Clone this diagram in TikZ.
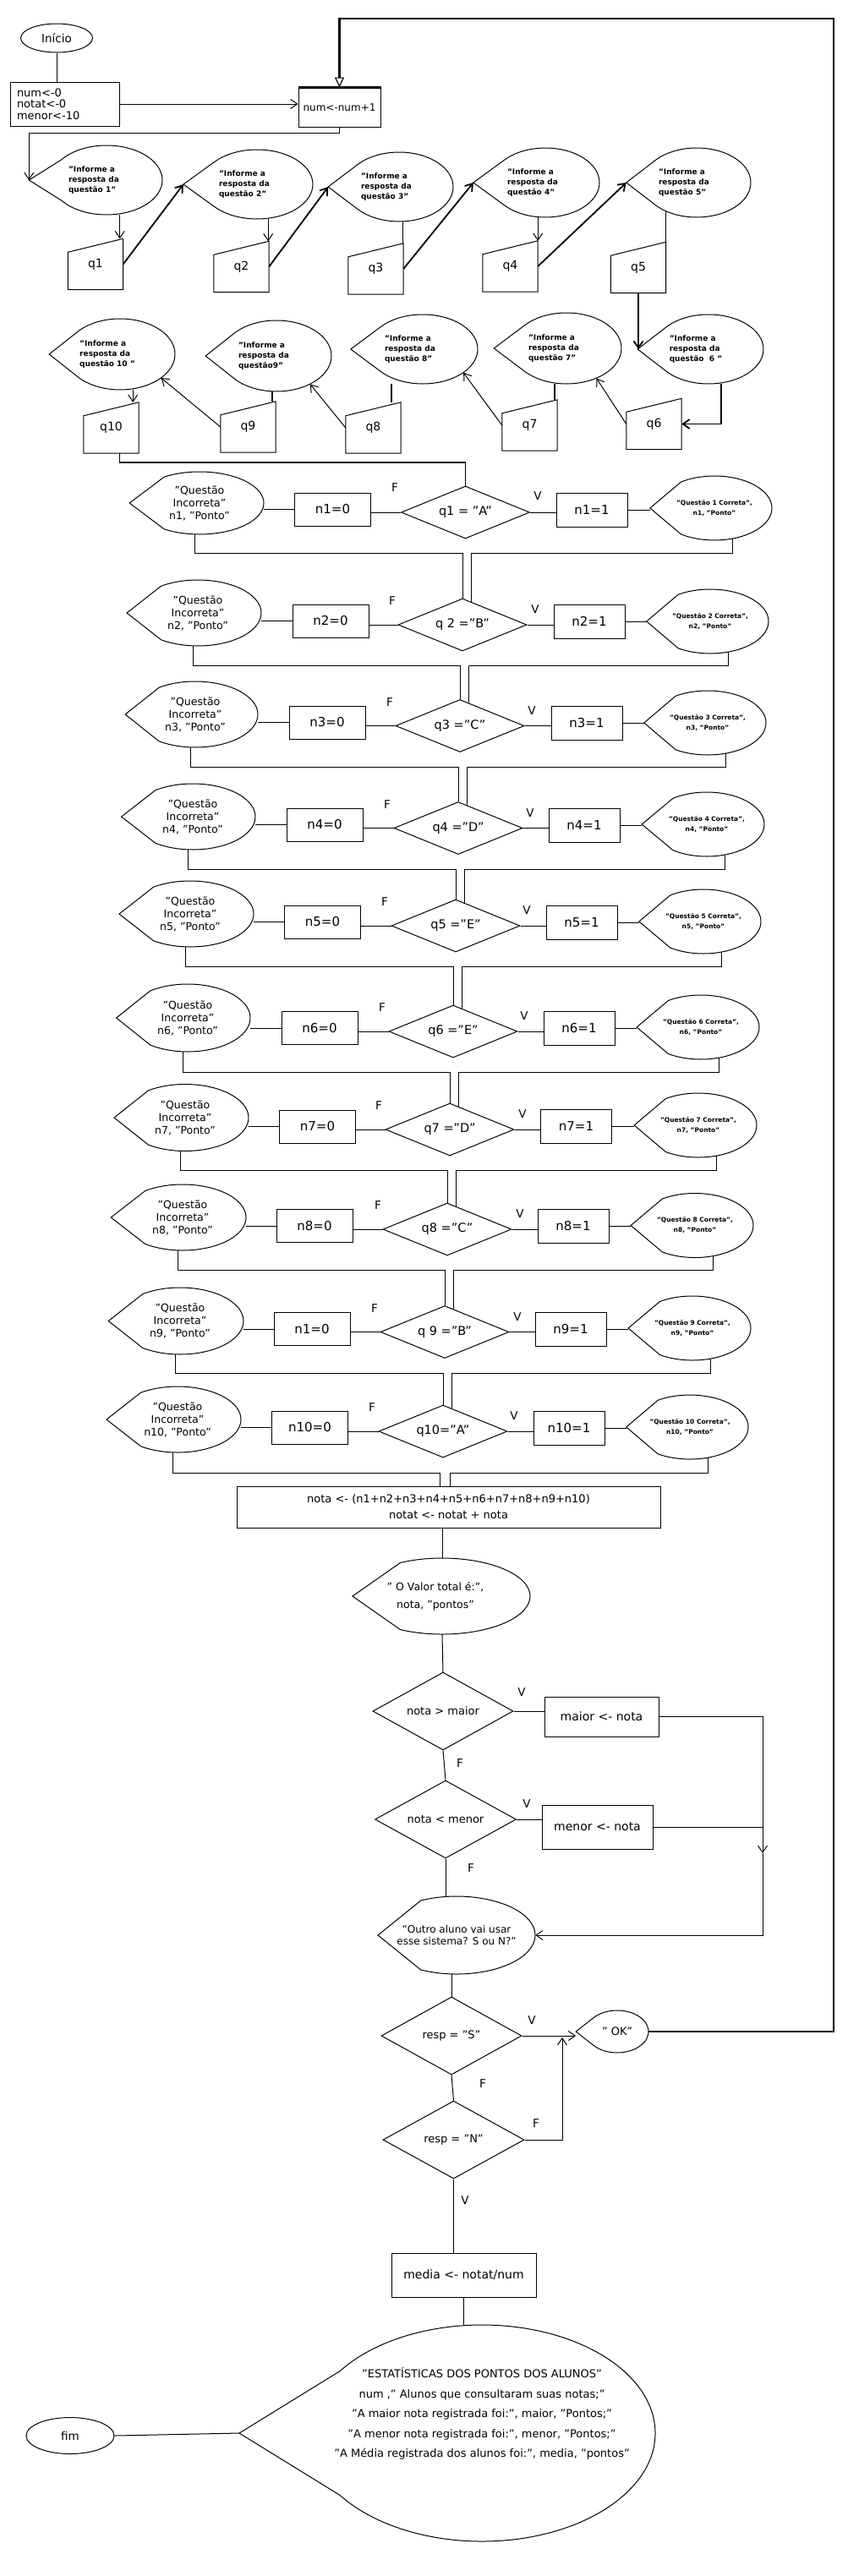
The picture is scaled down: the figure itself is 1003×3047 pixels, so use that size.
\documentclass[tikz,border=0pt]{standalone}
\usepackage{fontspec}
\setmainfont{DejaVu Sans}
\usetikzlibrary{shapes.geometric, arrows.meta, calc}

% tela de saida: ponta a esquerda, arco a direita
% [opcoes do texto]{nome}{cx}{cy}{raio x}{raio y}{ponta}{texto}
\newcommand{\tela}[8][]{%
  \node[telaforma, minimum width=2*#5, minimum height=2*#6] (#2) at (#3,#4) {};
  \node[texto, #1] (#2-t) at (#3,#4) {#8};
  \coordinate (#2-p) at ({#3-#7*#5},#4);
  \pgfmathsetmacro{\angulo}{117+70*(#7-1)}%
  \draw[linha] (#2-p) -- ($(#2.center)+(\angulo:#5pt and #6pt)$)
    arc[start angle=\angulo, end angle=-\angulo, x radius=#5pt, y radius=#6pt] -- cycle;
}
% entrada manual: topo inclinado
\newcommand{\entrada}[4]{%
  \node[entrada] (#1) at (#2,#3) {#4};
  \draw[linha] (#1.south west) -- (#1.south east) -- (#1.north east) -- ([yshift=-16pt]#1.north west) -- cycle;
}

\begin{document}
\begin{tikzpicture}[x=1pt, y=-1pt,
    linha/.style={draw=black, line width=1pt},
    linhamedia/.style={draw=black, line width=1.8pt},
    grossa/.style={draw=black, line width=2.6pt},
    seta/.style={linha, -{Straight Barb[length=8pt, width=11pt]}},
    setamedia/.style={linhamedia, -{Straight Barb[length=8pt, width=11pt]}},
    caixa/.style={rectangle, draw, line width=1pt, inner sep=2pt, align=center, font=\fontsize{15}{18}\selectfont},
    zero/.style={caixa, minimum width=90, minimum height=39},
    um/.style={caixa, minimum width=84, minimum height=40},
    losango/.style={diamond, draw, line width=1pt, inner sep=0pt, aspect=2.45, minimum width=152, minimum height=62, font=\fontsize{14.5}{17}\selectfont},
    extremo/.style={ellipse, draw, line width=1pt, inner sep=0pt, font=\fontsize{13.5}{16}\selectfont},
    telaforma/.style={ellipse, inner sep=0pt},
    texto/.style={inner sep=0pt, align=center, font=\fontsize{13}{15}\selectfont},
    informe/.style={xshift=-15, align=left, font=\bfseries\fontsize{9}{12}\selectfont},
    errada/.style={font=\fontsize{12.5}{15}\selectfont},
    certa/.style={font=\bfseries\fontsize{7.5}{12}\selectfont},
    entrada/.style={rectangle, minimum width=65, minimum height=60, inner sep=0pt, font=\fontsize{14}{16}\selectfont},
    rotulo/.style={inner sep=0pt, font=\fontsize{13.5}{16}\selectfont}
  ]
  \fill[white] (0,0) rectangle (1003,3047);
  \useasboundingbox (0,0) rectangle (1003,3047);

  % Inicio
  \node[extremo, minimum width=85, minimum height=34] (inicio) at (67,45) {Início};
  \node[caixa, text width=113pt, align=left, inner xsep=8pt, minimum height=52, font=\fontsize{13}{13.5}\selectfont] (ini) at (76.5,123) {num<-0\\notat<-0\\menor<-10};
  \node[caixa, minimum width=97, minimum height=46, font=\fontsize{12}{14}\selectfont] (num) at (401.5,127) {num<-num+1};

  % Leitura das respostas
  \tela[informe]{i1}{126}{213}{66}{41}{1.39}{"Informe a\\resposta da\\questão 1"}
  \tela[informe]{i2}{304}{218}{66}{41}{1.32}{"Informe a\\resposta da\\questão 2"}
  \tela[informe]{i3}{472}{221}{64}{41}{1.31}{"Informe a\\resposta da\\questão 3"}
  \tela[informe]{i4}{645}{216}{64}{41}{1.33}{"Informe a\\resposta da\\questão 4"}
  \tela[informe]{i5}{824}{216}{64}{41}{1.30}{"Informe a\\resposta da\\questão 5"}
  \tela[informe]{i6}{838}{413}{65}{41}{1.29}{"Informe a\\resposta da\\questão\ \ 6 "}
  \tela[informe]{i7}{670}{412}{65}{42}{1.32}{"Informe a\\resposta da\\questão 7"}
  \tela[informe]{i8}{500}{413}{65}{41}{1.31}{"Informe a\\resposta da\\questão 8"}
  \tela[informe]{i9}{327}{421}{65}{42}{1.29}{"Informe a\\resposta da\\questão9"}
  \tela[informe]{i10}{142}{419}{65}{42}{1.29}{"Informe a\\resposta da\\questão 10 "}

  \entrada{q1}{113}{312.5}{q1}
  \entrada{q2}{285.5}{315.5}{q2}
  \entrada{q3}{444.5}{318}{q3}
  \entrada{q4}{603.5}{315}{q4}
  \entrada{q5}{755}{316.5}{q5}
  \entrada{q6}{773.5}{501.5}{q6}
  \entrada{q7}{626.5}{503}{q7}
  \entrada{q8}{441.5}{506}{q8}
  \entrada{q9}{293.5}{505}{q9}
  \entrada{q10}{131.5}{506}{q10}

  % Questao 1
  \node[losango] (d1) at (550.5,606) {q1 = "A"};
  \node[zero] (z1) at (393.5,602.5) {n1=0};
  \node[um] (u1) at (700,603) {n1=1};
  \tela[errada]{e1}{236}{595}{76}{37}{1.09}{"Questão\\Incorreta"\\n1, "Ponto"}
  \tela[certa]{c1}{845}{601}{68}{38}{1.12}{"Questão 1 Correta",\\n1, "Ponto"}
  \node[rotulo] (f1) at (467,577) {F};
  \node[rotulo] (v1) at (636,587) {V};

  % Questao 2
  \node[losango] (d2) at (547,739) {q 2 ="B"};
  \node[zero] (z2) at (391,734.5) {n2=0};
  \node[um] (u2) at (697,735) {n2=1};
  \tela[errada]{e2}{234}{725}{75}{39}{1.12}{"Questão\\Incorreta"\\n2, "Ponto"}
  \tela[certa]{c2}{840}{735}{69}{38}{1.09}{"Questão 2 Correta",\\n2, "Ponto"}
  \node[rotulo] (f2) at (464,711) {F};
  \node[rotulo] (v2) at (633,721) {V};

  % Questao 3
  \node[losango] (d3) at (544,858.5) {q3 ="C"};
  \node[zero] (z3) at (387,854.5) {n3=0};
  \node[um] (u3) at (694,855) {n3=1};
  \tela[errada]{e3}{231}{845}{74}{39}{1.12}{"Questão\\Incorreta"\\n3, "Ponto"}
  \tela[certa]{c3}{837}{855}{69}{38}{1.09}{"Questão 3 Correta",\\n3, "Ponto"}
  \node[rotulo] (f3) at (461,831) {F};
  \node[rotulo] (v3) at (629,841) {V};

  % Questao 4
  \node[losango] (d4) at (542,979.5) {q4 ="D"};
  \node[zero] (z4) at (384,975.5) {n4=0};
  \node[um] (u4) at (691,976.5) {n4=1};
  \tela[errada]{e4}{228}{966}{74}{39}{1.14}{"Questão\\Incorreta"\\n4, "Ponto"}
  \tela[certa]{c4}{836}{975}{68}{38}{1.13}{"Questão 4 Correta",\\n4, "Ponto"}
  \node[rotulo] (f4) at (458,952) {F};
  \node[rotulo] (v4) at (627,962) {V};

  % Questao 5
  \node[losango] (d5) at (539,1095) {q5 ="E"};
  \node[zero] (z5) at (381.5,1090.5) {n5=0};
  \node[um] (u5) at (688,1091) {n5=1};
  \tela[errada]{e5}{225}{1081}{75}{39}{1.12}{"Questão\\Incorreta"\\n5, "Ponto"}
  \tela[certa]{c5}{832}{1090}{68}{38}{1.12}{"Questão 5 Correta",\\n5, "Ponto"}
  \node[rotulo] (f5) at (455,1067) {F};
  \node[rotulo] (v5) at (623,1077) {V};

  % Questao 6
  \node[losango] (d6) at (536,1220) {q6 ="E"};
  \node[zero] (z6) at (378,1216) {n6=0};
  \node[um] (u6) at (685,1216.5) {n6=1};
  \tela[errada]{e6}{222}{1204}{74}{40}{1.14}{"Questão\\Incorreta"\\n6, "Ponto"}
  \tela[certa]{c6}{829}{1215}{69}{38}{1.1}{"Questão 6 Correta",\\n6, "Ponto"}
  \node[rotulo] (f6) at (452,1192) {F};
  \node[rotulo] (v6) at (620,1202) {V};

  % Questao 7
  \node[losango] (d7) at (532,1336) {q7 ="D"};
  \node[zero] (z7) at (375.5,1332.5) {n7=0};
  \node[um] (u7) at (681.5,1332.5) {n7=1};
  \tela[errada]{e7}{219}{1322}{75}{39.5}{1.12}{"Questão\\Incorreta"\\n7, "Ponto"}
  \tela[certa]{c7}{826}{1331}{69}{38}{1.1}{"Questão 7 Correta",\\n7, "Ponto"}
  \node[rotulo] (f7) at (448,1308) {F};
  \node[rotulo] (v7) at (618,1318) {V};

  % Questao 8
  \node[losango] (d8) at (529,1454) {q8 ="C"};
  \node[zero] (z8) at (372,1450) {n8=0};
  \node[um] (u8) at (678,1450.5) {n8=1};
  \tela[errada]{e8}{216}{1440}{75}{39}{1.13}{"Questão\\Incorreta"\\n8, "Ponto"}
  \tela[certa]{c8}{822}{1449.5}{69}{38}{1.1}{"Questão 8 Correta",\\n8, "Ponto"}
  \node[rotulo] (f8) at (447,1426) {F};
  \node[rotulo] (v8) at (615,1436) {V};

  % Questao 9
  \node[losango] (d9) at (526,1575.5) {q 9 ="B"};
  \node[zero] (z9) at (369,1572) {n1=0};
  \node[um] (u9) at (675,1572.5) {n9=1};
  \tela[errada]{e9}{213}{1562.5}{75}{39.5}{1.13}{"Questão\\Incorreta"\\n9, "Ponto"}
  \tela[certa]{c9}{819}{1571}{69}{38}{1.1}{"Questão 9 Correta",\\n9, "Ponto"}
  \node[rotulo] (f9) at (443,1548) {F};
  \node[rotulo] (v9) at (612,1558) {V};

  % Questao 10
  \node[losango] (d10) at (524,1693) {q10="A"};
  \node[zero] (z10) at (366.5,1688.5) {n10=0};
  \node[um] (u10) at (673,1689) {n10=1};
  \tela[errada]{e10}{210}{1679}{75}{39}{1.12}{"Questão\\Incorreta"\\n10, "Ponto"}
  \tela[certa]{c10}{816}{1688}{69}{38}{1.09}{"Questão 10 Correta",\\n10, "Ponto"}
  \node[rotulo] (f10) at (440,1665) {F};
  \node[rotulo] (v10) at (608,1675) {V};

  % Resultado
  \node[caixa, minimum width=501, minimum height=49, font=\fontsize{13}{19}\selectfont] (soma) at (530.5,1782.5) {nota <- (n1+n2+n3+n4+n5+n6+n7+n8+n9+n10)\\notat <- notat + nota};
  \tela[xshift=-8, font=\fontsize{12.5}{21}\selectfont]{valor}{523}{1888}{104}{45}{1.02}{" O Valor total é:",\\nota, "pontos"}
  \node[losango, aspect=1.8, minimum width=166, minimum height=92, font=\fontsize{13}{15}\selectfont] (maior) at (524,2024) {nota > maior};
  \node[caixa, minimum width=135, minimum height=47, font=\fontsize{14}{16}\selectfont] (maiorx) at (711.5,2030.5) {maior <- nota};
  \node[losango, aspect=1.8, minimum width=167, minimum height=92, font=\fontsize{13}{15}\selectfont] (menor) at (527,2152) {nota < menor};
  \node[caixa, minimum width=131, minimum height=52, font=\fontsize{14}{16}\selectfont] (menorx) at (706.5,2161) {menor <- nota};
  \node[rotulo] (vmaior) at (617,2002) {V};
  \node[rotulo] (fmaior) at (544,2086) {F};
  \node[rotulo] (vmenor) at (623,2134) {V};
  \node[rotulo] (fmenor) at (557,2210) {F};

  % Outro aluno
  \tela[font=\fontsize{12}{14}\selectfont]{outro}{540}{2289}{93}{46}{1.0}{"Outro aluno vai usar\\esse sistema? S ou N?"}
  \node[losango, aspect=1.8, minimum width=166, minimum height=92, font=\fontsize{13}{15}\selectfont] (rs) at (534,2408) {resp = "S"};
  \tela[font=\fontsize{13}{15}\selectfont]{ok}{730}{2403}{37}{25}{1.32}{" OK"}
  \node[losango, aspect=1.8, minimum width=167, minimum height=92, font=\fontsize{13}{15}\selectfont] (rn) at (536.5,2531) {resp = "N"};
  \node[rotulo] (vs) at (629,2390) {V};
  \node[rotulo] (fs) at (571,2465) {F};
  \node[rotulo] (fn) at (634,2512) {F};
  \node[rotulo] (vn) at (550,2603) {V};

  % Estatisticas
  \node[caixa, minimum width=171, minimum height=52, font=\fontsize{14}{16}\selectfont] (media) at (548.5,2691) {media <- notat/num};
  \tela[yshift=23, font=\fontsize{13}{23.5}\selectfont]{stats}{570}{2878}{205}{128}{1.4}{"ESTATÍSTICAS DOS PONTOS DOS ALUNOS"\\num ," Alunos que consultaram suas notas;"\\"A maior nota registrada foi:", maior, "Pontos;"\\"A menor nota registrada foi:", menor, "Pontos;"\\"A Média registrada dos alunos foi:", media, "pontos"}
  \node[extremo, minimum width=104, minimum height=43] (fim) at (83,2881) {fim};

  % Ligacoes do topo
  \draw[linha] (inicio.south) -- (inicio.south |- ini.north);
  \draw[seta] (ini.east) -- (ini.east -| num.west);
  \draw[grossa] (num.north west) -- (num.north east);
  \draw[seta] (num.south) -- ++(0,7) -| (i1-p);

  % Ligacoes das leituras
  \draw[seta] ([xshift=-4]q1.north east |- i1.south) -- ([xshift=-4]q1.north east);
  \draw[setamedia] (q1.east) -- (i2-p);
  \draw[seta] ([xshift=-1]q2.north east |- i2.south) -- ([xshift=-1]q2.north east);
  \draw[setamedia] (q2.east) -- (i3-p);
  \draw[linha] ([xshift=-1]q3.north east |- i3.south) -- ([xshift=-1]q3.north east);
  \draw[setamedia] (q3.east) -- (i4-p);
  \draw[seta] (q4.north east |- i4.south) -- (q4.north east);
  \draw[setamedia] (q4.east) -- (i5-p);
  \draw[linha] ([yshift=7]q5.north east |- i5.south) -- (q5.north east);
  \draw[setamedia] (q5.south) -- (q5.south |- i6-p);
  \draw[setamedia] ([xshift=15]i6.south) |- (q6.east);
  \draw[seta] (q6.west) -- (i7.-45);
  \draw[linhamedia] ([xshift=-3]q7.north east |- i7.south) -- ([xshift=-3]q7.north east);
  \draw[seta] (q7.west) -- (i8.-30);
  \draw[linhamedia] ([xshift=-11]q8.north east |- i8.south) -- ([xshift=-11]q8.north east);
  \draw[seta] (q8.west) -- (i9.-40);
  \draw[linhamedia] ([xshift=-4]q9.north east |- i9.south) -- ([xshift=-4]q9.north east);
  \draw[seta] (q9.west) -- (i10.-30);
  \draw[seta] ([xshift=-7]q10.north east |- i10.south) -- ([xshift=-7]q10.north east);
  \draw[linhamedia] ([xshift=10]q10.south) -- ++(0,11) -| (d1.north);

  % Ligacoes das questoes
  \draw[linha] (e1.east |- z1.west) -- (z1.west) (z1.east |- d1.west) -- (d1.west) (d1.east) -- (d1.east -| u1.west) (u1.east) -- (u1.east -| c1-p);
  \draw[linha] (e2.east |- z2.west) -- (z2.west) (z2.east |- d2.west) -- (d2.west) (d2.east) -- (d2.east -| u2.west) (u2.east) -- (u2.east -| c2-p);
  \draw[linha] (e3.east |- z3.west) -- (z3.west) (z3.east |- d3.west) -- (d3.west) (d3.east) -- (d3.east -| u3.west) (u3.east) -- (u3.east -| c3-p);
  \draw[linha] (e4.east |- z4.west) -- (z4.west) (z4.east |- d4.west) -- (d4.west) (d4.east) -- (d4.east -| u4.west) (u4.east) -- (u4.east -| c4-p);
  \draw[linha] (e5.east |- z5.west) -- (z5.west) (z5.east |- d5.west) -- (d5.west) (d5.east) -- (d5.east -| u5.west) (u5.east) -- (u5.east -| c5-p);
  \draw[linha] (e6.east |- z6.west) -- (z6.west) (z6.east |- d6.west) -- (d6.west) (d6.east) -- (d6.east -| u6.west) (u6.east) -- (u6.east -| c6-p);
  \draw[linha] (e7.east |- z7.west) -- (z7.west) (z7.east |- d7.west) -- (d7.west) (d7.east) -- (d7.east -| u7.west) (u7.east) -- (u7.east -| c7-p);
  \draw[linha] (e8.east |- z8.west) -- (z8.west) (z8.east |- d8.west) -- (d8.west) (d8.east) -- (d8.east -| u8.west) (u8.east) -- (u8.east -| c8-p);
  \draw[linha] (e9.east |- z9.west) -- (z9.west) (z9.east |- d9.west) -- (d9.west) (d9.east) -- (d9.east -| u9.west) (u9.east) -- (u9.east -| c9-p);
  \draw[linha] (e10.east |- z10.west) -- (z10.west) (z10.east |- d10.west) -- (d10.west) (d10.east) -- (d10.east -| u10.west) (u10.east) -- (u10.east -| c10-p);

  % Juncoes entre as questoes
  \coordinate (j1) at (0,654);
  \coordinate (j2) at (0,787);
  \coordinate (j3) at (0,907);
  \coordinate (j4) at (0,1028);
  \coordinate (j5) at (0,1143);
  \coordinate (j6) at (0,1268);
  \coordinate (j7) at (0,1384);
  \coordinate (j8) at (0,1502);
  \coordinate (j9) at (0,1624);
  \coordinate (j10) at (0,1742);
  \draw[linha] ([xshift=-6]e1.south) |- (d2.north |- j1) -- (d2.north);
  \draw[linha] ([xshift=21,yshift=2]c1.south) |- ([xshift=10]d2.north |- j1) -- ([xshift=10,yshift=-4]d2.north);
  \draw[linha] ([xshift=-6]e2.south) |- (d3.north |- j2) -- (d3.north);
  \draw[linha] ([xshift=21,yshift=2]c2.south) |- ([xshift=10]d3.north |- j2) -- ([xshift=10,yshift=-4]d3.north);
  \draw[linha] ([xshift=-6]e3.south) |- (d4.north |- j3) -- (d4.north);
  \draw[linha] ([xshift=21,yshift=2]c3.south) |- ([xshift=10]d4.north |- j3) -- ([xshift=10,yshift=-4]d4.north);
  \draw[linha] ([xshift=-6]e4.south) |- (d5.north |- j4) -- (d5.north);
  \draw[linha] ([xshift=21,yshift=2]c4.south) |- ([xshift=10]d5.north |- j4) -- ([xshift=10,yshift=-4]d5.north);
  \draw[linha] ([xshift=-6]e5.south) |- (d6.north |- j5) -- (d6.north);
  \draw[linha] ([xshift=21,yshift=2]c5.south) |- ([xshift=10]d6.north |- j5) -- ([xshift=10,yshift=-4]d6.north);
  \draw[linha] ([xshift=-6]e6.south) |- (d7.north |- j6) -- (d7.north);
  \draw[linha] ([xshift=21,yshift=2]c6.south) |- ([xshift=10]d7.north |- j6) -- ([xshift=10,yshift=-4]d7.north);
  \draw[linha] ([xshift=-6]e7.south) |- (d8.north |- j7) -- (d8.north);
  \draw[linha] ([xshift=21,yshift=2]c7.south) |- ([xshift=10]d8.north |- j7) -- ([xshift=10,yshift=-4]d8.north);
  \draw[linha] ([xshift=-6]e8.south) |- (d9.north |- j8) -- (d9.north);
  \draw[linha] ([xshift=21,yshift=2]c8.south) |- ([xshift=10]d9.north |- j8) -- ([xshift=10,yshift=-4]d9.north);
  \draw[linha] ([xshift=-6]e9.south) |- (d10.north |- j9) -- (d10.north);
  \draw[linha] ([xshift=21,yshift=2]c9.south) |- ([xshift=10]d10.north |- j9) -- ([xshift=10,yshift=-4]d10.north);
  \draw[linha] ([xshift=-6]e10.south) |- ([xshift=-4]d10.south |- j10) -- ([xshift=-4]d10.south |- soma.north);
  \draw[linha] ([xshift=21,yshift=2]c10.south) |- ([xshift=8]d10.south |- j10) -- ([xshift=8]d10.south |- soma.north);

  % Ligacoes do resultado
  \draw[linha] (valor.north |- soma.south) -- (valor.north);
  \draw[linha] (valor.south) -- (maior.north);
  \draw[linha] (maior.east) -- (maior.east -| maiorx.west);
  \draw[linha] (maior.south) -- (menor.north);
  \draw[linha] (menor.east) -- (menor.east -| menorx.west);
  \draw[linha] (menor.south) -- (menor.south |- outro.north);
  \coordinate (desce) at (902,2192);
  \draw[seta] (maiorx.east) -| (desce);
  \draw[linha] (menorx.east) -- (menorx.east -| desce);
  \draw[seta] (desce) |- (outro.east);
  \draw[linha] (rs.north |- outro.south) -- (rs.north);
  \draw[seta] (rs.east) -- (rs.east -| ok-p);
  \draw[linha] (rs.south) -- (rn.north);
  \coordinate (sobe) at (665,2410);
  \draw[seta] (rn.east) -| (sobe);
  \draw[linha] (rn.south) -- (rn.south |- media.north);
  \draw[linha] (media.south) -- (media.south |- stats.north);
  \draw[linha] (fim.east) -- (stats-p);

  % Volta para o proximo aluno
  \coordinate (canto) at (986,22);
  \draw[grossa, -{Triangle[open, length=12pt, width=11pt, line width=1.2pt]}] (ok.east) -| (canto) -| (num.north);
\end{tikzpicture}
\end{document}
